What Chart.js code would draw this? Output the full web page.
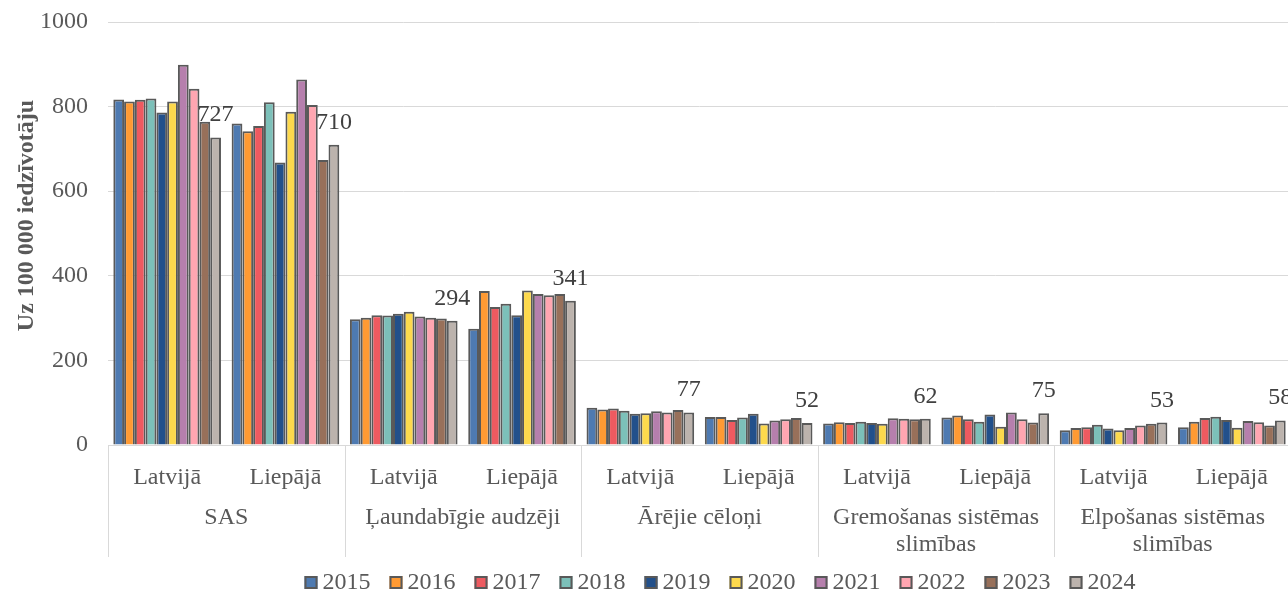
<!DOCTYPE html>
<html><head><meta charset="utf-8">
<script src="https://cdn.jsdelivr.net/npm/chart.js@4/dist/chart.umd.min.js"></script>
<style>
html,body{margin:0;padding:0;overflow:hidden;background:#fff;width:1288px;height:592px}
#wrap{width:1440px;height:592px;position:relative}
</style>
</head><body><div id="wrap"><canvas id="c" width="1440" height="592" style="width:1440px;height:592px"></canvas></div>
<script>
// ---- data ----
const groups = ['SAS', 'Ļaundabīgie audzēji', 'Ārējie cēloņi', 'Gremošanas sistēmas slimības', 'Elpošanas sistēmas slimības'];
const groupLines = [['SAS'], ['Ļaundabīgie audzēji'], ['Ārējie cēloņi'], ['Gremošanas sistēmas', 'slimības'], ['Elpošanas sistēmas', 'slimības']];
const places = ['Latvijā', 'Liepājā'];
const years = ['2015', '2016', '2017', '2018', '2019', '2020', '2021', '2022', '2023', '2024'];
// order: SAS Lat, SAS Lie, Ļaun Lat, Ļaun Lie, Ārējie Lat, Ārējie Lie, Grem Lat, Grem Lie, Elp Lat, Elp Lie
const v2015 = [817, 760, 297, 275, 88, 66, 51, 65, 35, 42];
const v2016 = [812, 742, 301, 364, 84, 66, 54, 70, 40, 55];
const v2017 = [816, 754, 307, 326, 86, 59, 52, 61, 42, 64];
const v2018 = [819, 810, 306, 334, 81, 65, 55, 55, 48, 67];
const v2019 = [786, 668, 310, 307, 74, 74, 52, 72, 39, 59];
const v2020 = [812, 788, 315, 365, 75, 51, 50, 43, 35, 41];
const v2021 = [899, 864, 304, 357, 80, 58, 63, 77, 40, 57];
const v2022 = [842, 804, 301, 354, 77, 61, 62, 61, 46, 54];
const v2023 = [764, 674, 299, 357, 83, 64, 61, 53, 50, 46];
const v2024 = [727, 710, 294, 341, 77, 52, 62, 75, 53, 58];
const yTicks = [0, 200, 400, 600, 800, 1000];
const yTitle = 'Uz 100 000 iedzīvotāju';

const seriesValues = [v2015, v2016, v2017, v2018, v2019, v2020, v2021, v2022, v2023, v2024];
const seriesColors = ['#4E7AB1', '#FF9A33', '#EE5A60', '#7CC0B9', '#22508B', '#FDD94D', '#B67FAD', '#FFA6B1', '#98705A', '#BCB3AD'];
const labeledSeries = years.length - 1; // only 2024 carries value labels

const FONT = "'Liberation Serif','Times New Roman',serif";
const FS = 24;
const labels = [];
groups.forEach(() => places.forEach(p => labels.push(p)));

const datasets = years.map((y, i) => ({
  label: y,
  data: seriesValues[i],
  backgroundColor: seriesColors[i],
  borderColor: '#595959',
  borderWidth: 2,
  categoryPercentage: 0.91,
  barPercentage: 1.0
}));

const decor = {
  id: 'decor',
  afterDatasetsDraw(chart) {
    const ctx = chart.ctx;
    const meta = chart.getDatasetMeta(labeledSeries);
    ctx.save();
    ctx.font = FS + 'px ' + FONT;
    ctx.fillStyle = '#404040';
    ctx.textAlign = 'center';
    ctx.textBaseline = 'alphabetic';
    meta.data.forEach((bar, i) => {
      ctx.fillText(String(seriesValues[labeledSeries][i]), bar.x, bar.y - 16);
    });
    ctx.restore();
  },
  afterDraw(chart) {
    const ctx = chart.ctx;
    const ca = chart.chartArea;
    const xs = chart.scales.x;
    const gw = (ca.right - ca.left) / groups.length;
    ctx.save();
    // group separators
    ctx.strokeStyle = '#d9d9d9';
    ctx.lineWidth = 1;
    for (let g = 0; g <= groups.length; g++) {
      const x = Math.round(ca.left + g * gw) + 0.5;
      ctx.beginPath();
      ctx.moveTo(x, ca.bottom);
      ctx.lineTo(x, xs.bottom);
      ctx.stroke();
    }
    // group labels
    ctx.font = FS + 'px ' + FONT;
    ctx.fillStyle = '#595959';
    ctx.textAlign = 'center';
    ctx.textBaseline = 'alphabetic';
    groupLines.forEach((lines, g) => {
      const cx = ca.left + (g + 0.5) * gw;
      lines.forEach((t, k) => ctx.fillText(t, cx, ca.bottom + 78.5 + k * 27.6));
    });
    // y axis title
    ctx.save();
    ctx.translate(33, (ca.top + ca.bottom) / 2 - 18);
    ctx.rotate(-Math.PI / 2);
    ctx.font = 'bold 24px ' + FONT;
    ctx.fillStyle = '#595959';
    ctx.textAlign = 'center';
    ctx.fillText(yTitle, 0, 0);
    ctx.restore();
    // legend
    ctx.font = FS + 'px ' + FONT;
    const box = 13, gap = 5, pad = 19;
    const widths = years.map(y => box + gap + ctx.measureText(y).width);
    const total = widths.reduce((a, b) => a + b, 0) + pad * (years.length - 1);
    let x = chart.width / 2 - total / 2;
    const base = chart.height - 3;
    ctx.textAlign = 'left';
    years.forEach((y, i) => {
      ctx.fillStyle = seriesColors[i];
      ctx.fillRect(x, base - box, box, box);
      ctx.strokeStyle = '#595959';
      ctx.lineWidth = 2;
      ctx.strokeRect(x + 1, base - box + 1, box - 2, box - 2);
      ctx.fillStyle = '#595959';
      ctx.fillText(y, x + box + gap, base);
      x += widths[i] + pad;
    });
    ctx.restore();
  }
};

new Chart(document.getElementById('c'), {
  type: 'bar',
  data: { labels, datasets },
  plugins: [decor],
  options: {
    responsive: false,
    animation: false,
    layout: { padding: { top: 22, right: 149, bottom: 35, left: 0 } },
    plugins: { legend: { display: false }, tooltip: { enabled: false } },
    scales: {
      x: {
        grid: { display: false },
        border: { display: true, color: '#d9d9d9', width: 1 },
        ticks: { font: { family: FONT, size: FS }, color: '#595959', maxRotation: 0, autoSkip: false, padding: 10 },
        afterFit(s) { s.height = 112; }
      },
      y: {
        min: yTicks[0],
        max: yTicks[yTicks.length - 1],
        grid: { color: '#d9d9d9', lineWidth: 1, drawTicks: false },
        border: { display: false },
        ticks: { stepSize: yTicks[1] - yTicks[0], font: { family: FONT, size: FS }, color: '#595959', padding: 20,
                 callback: v => String(v) },
        afterFit(s) { s.width = 108; s.paddingTop = 0; s.paddingBottom = 0; }
      }
    }
  }
});
</script>
</body></html>
